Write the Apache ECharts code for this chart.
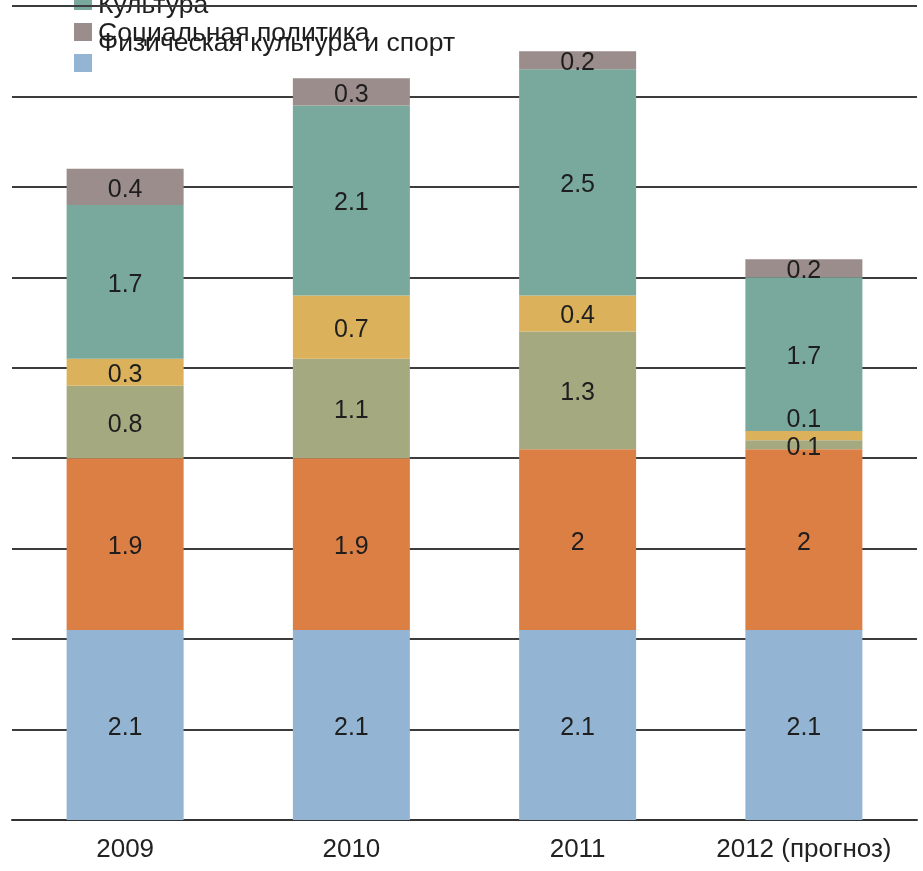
<!DOCTYPE html>
<html>
<head>
<meta charset="utf-8">
<script src="https://cdn.jsdelivr.net/npm/echarts@6/dist/echarts.min.js"></script>
<style>
  html, body { margin: 0; padding: 0; background: #fff; }
  #chart { width: 923px; height: 871px; }
</style>
</head>
<body>
<div id="chart"></div>
<script>
// Budget structure by year, stacked from the bottom segment upward
var years = ['2009', '2010', '2011', '2012 (прогноз)'];
var seriesNames = ['Физическая культура и спорт', 'Статья 2', 'Статья 3', 'Статья 4', 'Культура', 'Социальная политика'];
var seg1 = [2.1, 2.1, 2.1, 2.1];
var seg2 = [1.9, 1.9, 2.0, 2.0];
var seg3 = [0.8, 1.1, 1.3, 0.1];
var seg4 = [0.3, 0.7, 0.4, 0.1];
var seg5 = [1.7, 2.1, 2.5, 1.7];
var seg6 = [0.4, 0.3, 0.2, 0.2];
var colors = ['#93b5d3', '#dc7f45', '#a4a980', '#dbb25b', '#79a89c', '#9a8d8c'];
var yTicks = { min: 0, max: 9, step: 1 };

var FONT = '"Liberation Sans", Arial, sans-serif';

var segs = [seg1, seg2, seg3, seg4, seg5, seg6];
var series = segs.map(function (vals, i) {
  return {
    name: seriesNames[i],
    type: 'bar',
    stack: 'total',
    barWidth: 117,
    itemStyle: { color: colors[i] },
    label: {
      show: true,
      position: 'inside',
      offset: [0, 3],
      fontFamily: FONT,
      fontSize: 25,
      color: '#1e1e1e',
      formatter: function (p) { return String(p.value); }
    },
    data: vals.map(function (v, j) {
      // thin yellow slice in the last column: its label sits just above it
      if (i === 3 && j === 3) {
        return { value: v, label: { offset: [0, -16] } };
      }
      return v;
    })
  };
});

// Legend drawn as plain shapes and text
var legendFont = '26.5px ' + FONT;
var legendGraphics = [
  { type: 'rect', shape: { x: 74, y: -8, width: 18, height: 18 }, style: { fill: colors[4] } },
  { type: 'rect', shape: { x: 74, y: 23, width: 18, height: 18 }, style: { fill: colors[5] } },
  { type: 'rect', shape: { x: 74, y: 54, width: 18, height: 18 }, style: { fill: colors[0] } },
  { type: 'text', x: 98, y: 6, style: { text: 'Культура', font: legendFont, fill: '#1e1e1e', verticalAlign: 'middle' } },
  { type: 'text', x: 98, y: 34, style: { text: 'Социальная политика', font: legendFont, fill: '#1e1e1e', verticalAlign: 'middle' } },
  { type: 'text', x: 98, y: 44, style: { text: 'Физическая культура и спорт', font: legendFont, fill: '#1e1e1e', verticalAlign: 'middle' } }
];

var chart = echarts.init(document.getElementById('chart'), null, { renderer: 'canvas' });
chart.setOption({
  animation: false,
  backgroundColor: '#ffffff',
  grid: { left: 12, right: 6, top: 6, bottom: 51, containLabel: false },
  xAxis: {
    type: 'category',
    data: years,
    axisLine: { show: true, lineStyle: { color: '#333333', width: 2 } },
    axisTick: { show: false },
    axisLabel: { interval: 0, fontFamily: FONT, fontSize: 26, color: '#222222', margin: 17 }
  },
  yAxis: {
    type: 'value',
    min: yTicks.min,
    max: yTicks.max,
    interval: yTicks.step,
    axisLine: { show: false },
    axisTick: { show: false },
    axisLabel: { show: false },
    splitLine: { show: true, lineStyle: { color: '#3c3c3c', width: 2 } }
  },
  series: series,
  graphic: { elements: legendGraphics }
});
</script>
</body>
</html>
